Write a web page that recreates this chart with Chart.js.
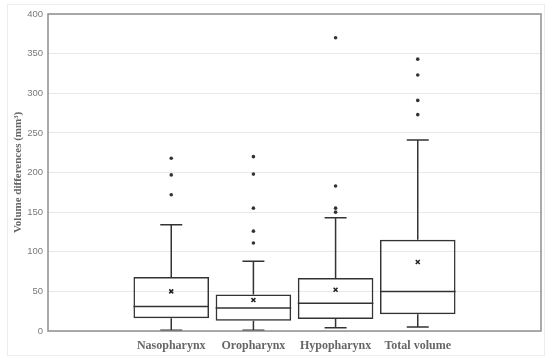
<!DOCTYPE html>
<html>
<head>
<meta charset="utf-8">
<script src="https://cdn.jsdelivr.net/npm/chart.js@4"></script>
<style>
  html, body { margin: 0; padding: 0; background: #fff; }
  #wrap { width: 550px; height: 361px; position: relative; }
</style>
</head>
<body>
<div id="wrap"><canvas id="chart" width="550" height="361"></canvas></div>
<script>
// category slots (first and last are empty in the original figure)
const categories = ['', 'Nasopharynx', 'Oropharynx', 'Hypopharynx', 'Total volume', ''];
const groups = ['Nasopharynx', 'Oropharynx', 'Hypopharynx', 'Total volume'];

// box plot values
const whiskerMin = [1, 1, 4, 5];
const q1 = [16, 13, 15, 21];
const median = [31, 29, 35, 50];
const q3 = [68, 46, 67, 115];
const whiskerMax = [134, 88, 143, 241];
const means = [50, 39, 52, 87];
const outliers = [
    [218, 197, 172],
    [220, 198, 155, 126, 111],
    [370, 183, 155, 150],
    [343, 323, 291, 273]
];

const yTicks = [0, 50, 100, 150, 200, 250, 300, 350, 400];

const boxColor = '#333';

const boxData = categories.map(c => {
    const i = groups.indexOf(c);
    return i < 0 ? null : [q1[i], q3[i]];
});
const meanPoints = groups.map((g, i) => ({ x: g, y: means[i] }));
const outlierPoints = [];
groups.forEach((g, i) => outliers[i].forEach(v => outlierPoints.push({ x: g, y: v })));

const whiskerPlugin = {
    id: 'whiskers',
    beforeDraw(chart) {
        const ctx = chart.ctx;
        ctx.save();
        ctx.strokeStyle = '#ededed';
        ctx.lineWidth = 1;
        ctx.strokeRect(7.5, 4.5, 537, 351);
        ctx.restore();
    },
    afterDatasetsDraw(chart) {
        const ctx = chart.ctx;
        const x = chart.scales.x, y = chart.scales.y;
        const bars = chart.getDatasetMeta(0).data;
        ctx.save();
        ctx.strokeStyle = boxColor;
        ctx.lineWidth = 1.5;
        groups.forEach((g, i) => {
            const cx = x.getPixelForValue(categories.indexOf(g));
            const bar = bars[categories.indexOf(g)];
            const half = bar.width / 2;
            const cap = 11;
            ctx.beginPath();
            // median
            ctx.moveTo(cx - half, y.getPixelForValue(median[i]));
            ctx.lineTo(cx + half, y.getPixelForValue(median[i]));
            // upper whisker
            ctx.moveTo(cx, y.getPixelForValue(q3[i]));
            ctx.lineTo(cx, y.getPixelForValue(whiskerMax[i]));
            ctx.moveTo(cx - cap, y.getPixelForValue(whiskerMax[i]));
            ctx.lineTo(cx + cap, y.getPixelForValue(whiskerMax[i]));
            // lower whisker
            ctx.moveTo(cx, y.getPixelForValue(q1[i]));
            ctx.lineTo(cx, y.getPixelForValue(whiskerMin[i]));
            ctx.moveTo(cx - cap, y.getPixelForValue(whiskerMin[i]));
            ctx.lineTo(cx + cap, y.getPixelForValue(whiskerMin[i]));
            ctx.stroke();
        });
        // plot frame
        const a = chart.chartArea;
        ctx.strokeStyle = '#8f8f8f';
        ctx.lineWidth = 1.5;
        ctx.strokeRect(a.left, a.top, a.right - a.left, a.bottom - a.top);
        ctx.restore();
    }
};

new Chart(document.getElementById('chart'), {
    data: {
        labels: categories,
        datasets: [
            {
                type: 'bar',
                data: boxData,
                backgroundColor: 'rgba(255,255,255,0)',
                borderColor: boxColor,
                borderWidth: 1.5,
                borderSkipped: false,
                categoryPercentage: 1,
                barPercentage: 0.92
            },
            {
                type: 'line',
                data: meanPoints,
                showLine: false,
                pointStyle: 'crossRot',
                pointRadius: 2.8,
                borderColor: '#222',
                borderWidth: 1.5
            },
            {
                type: 'line',
                data: outlierPoints,
                showLine: false,
                pointStyle: 'circle',
                pointRadius: 1.8,
                backgroundColor: '#333',
                borderColor: '#333',
                borderWidth: 0
            }
        ]
    },
    options: {
        responsive: false,
        animation: false,
        layout: { padding: { left: 0, top: 14, right: 9, bottom: 0 } },
        plugins: { legend: { display: false }, tooltip: { enabled: false } },
        scales: {
            x: {
                type: 'category',
                offset: true,
                grid: { display: false, drawTicks: false },
                border: { display: false },
                ticks: {
                    padding: 8,
                    color: '#666',
                    font: { family: 'Liberation Serif', size: 12, weight: 'bold' },
                    maxRotation: 0,
                    autoSkip: false
                },
                afterFit: s => { s.height = 30; }
            },
            y: {
                min: 0,
                max: 400,
                afterBuildTicks: s => { s.ticks = yTicks.map(v => ({ value: v })); },
                grid: { color: '#e8e8e8', lineWidth: 1, drawTicks: false },
                border: { display: false },
                ticks: {
                    padding: 5,
                    color: '#7a7a7a',
                    font: { family: 'Liberation Sans', size: 9.5 }
                },
                title: {
                    display: true,
                    text: 'Volume differences (mm³)',
                    color: '#666',
                    font: { family: 'Liberation Serif', size: 11, weight: 'bold' },
                    padding: { top: 12, bottom: 0 }
                },
                afterFit: s => { s.width = 48; }
            }
        }
    },
    plugins: [whiskerPlugin]
});
</script>
</body>
</html>
